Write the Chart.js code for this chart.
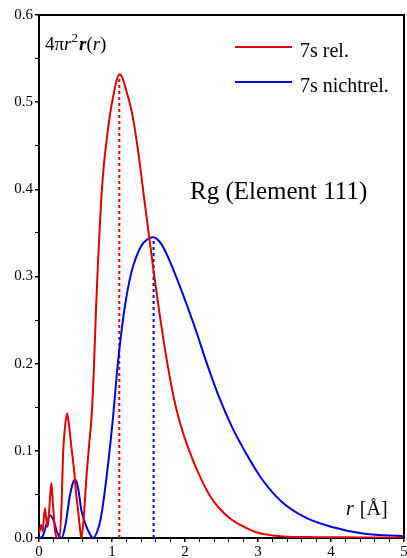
<!DOCTYPE html>
<html>
<head>
<meta charset="utf-8">
<script src="https://cdn.jsdelivr.net/npm/chart.js@4.4.1/dist/chart.umd.min.js"></script>
<style>
  html, body { margin: 0; padding: 0; background: #fff; overflow: hidden; }
  #wrap { width: 407px; height: 558px; }
  canvas { display: block; }
</style>
</head>
<body>
<div id="wrap"><canvas id="rdf" width="407" height="558"></canvas></div>
<script>
// radial distribution 4*pi*r^2*rho(r) of the 7s orbital, Rg
const relR = [0, 0.03, 0.05, 0.08, 0.1, 0.12, 0.15, 0.17, 0.19, 0.22, 0.25, 0.28, 0.31, 0.33, 0.36, 0.385, 0.41, 0.45, 0.48, 0.51, 0.535, 0.56, 0.58, 0.61, 0.65, 0.69, 0.72, 0.75, 0.78, 0.81, 0.85, 0.88, 0.92, 0.95, 0.98, 1.02, 1.06, 1.1, 1.13, 1.17, 1.2, 1.24, 1.28, 1.33, 1.38, 1.44, 1.51, 1.58, 1.65, 1.71, 1.78, 1.87, 1.96, 2.05, 2.17, 2.33, 2.46, 2.64, 2.83, 3.0, 3.2, 3.4, 3.8, 4.2, 4.6, 5.0];
const relV = [0.005, 0.015, 0.008, 0.034, 0.022, 0.013, 0.045, 0.063, 0.04, 0.008, 0.0, 0.0, 0.04, 0.097, 0.13, 0.143, 0.13, 0.1, 0.078, 0.05, 0.032, 0.012, 0.0, 0.02, 0.07, 0.11, 0.139, 0.19, 0.26, 0.32, 0.385, 0.42, 0.452, 0.472, 0.49, 0.508, 0.524, 0.532, 0.53, 0.521, 0.512, 0.5, 0.485, 0.46, 0.43, 0.39, 0.345, 0.3, 0.258, 0.225, 0.19, 0.152, 0.124, 0.102, 0.077, 0.05, 0.035, 0.021, 0.012, 0.006, 0.003, 0.0015, 0.001, 0.0008, 0.0005, 0.0003];

const nrR = [0, 0.05, 0.1, 0.15, 0.2, 0.25, 0.31, 0.35, 0.38, 0.42, 0.46, 0.5, 0.54, 0.58, 0.65, 0.7, 0.74, 0.8, 0.85, 0.92, 1.01, 1.08, 1.17, 1.26, 1.33, 1.4, 1.49, 1.56, 1.67, 1.8, 1.96, 2.15, 2.28, 2.46, 2.64, 2.83, 3.05, 3.32, 3.64, 4.0, 4.46, 5.0];
const nrV = [0.0, 0.002, 0.015, 0.026, 0.02, 0.006, 0.0, 0.01, 0.024, 0.047, 0.062, 0.067, 0.055, 0.032, 0.013, 0.004, 0.0, 0.008, 0.024, 0.066, 0.135, 0.2, 0.262, 0.303, 0.322, 0.335, 0.343, 0.345, 0.338, 0.316, 0.282, 0.238, 0.205, 0.163, 0.128, 0.098, 0.068, 0.042, 0.024, 0.013, 0.005, 0.002];

// maxima (r, value) marked with dotted lines
const relMax = [1.1, 0.532];
const nrMax = [1.57, 0.345];

const seriesNames = ['7s rel.', '7s nichtrel.'];
const RED = 'rgb(228,0,0)';
const BLUE = 'rgb(0,0,228)';
const SERIF = '"Liberation Serif", "DejaVu Serif", serif';

const toPts = (xs, ys) => xs.map((x, i) => ({ x, y: ys[i] }));

// frame, legend and text labels drawn on top
const labels = {
    id: 'labels',
    afterDraw(chart) {
        const ctx = chart.ctx;
        const area = chart.chartArea;
        ctx.save();

        // right edge of the frame
        ctx.strokeStyle = '#000';
        ctx.lineWidth = 2;
        ctx.beginPath();
        ctx.moveTo(area.right, area.top - 1);
        ctx.lineTo(area.right, area.bottom + 1);
        ctx.stroke();

        ctx.fillStyle = '#000';
        ctx.textBaseline = 'alphabetic';

        // legend
        const rows = [[RED, 47], [BLUE, 82]];
        rows.forEach(([col, y], i) => {
            ctx.strokeStyle = col;
            ctx.lineWidth = 2;
            ctx.beginPath();
            ctx.moveTo(235, y);
            ctx.lineTo(292, y);
            ctx.stroke();
            ctx.font = '20px ' + SERIF;
            ctx.fillText(seriesNames[i], 300, y + 10);
        });

        // y title: 4πr²r(r)
        let x = 45;
        const yb = 50;
        const put = (t, font, dy) => {
            ctx.font = font;
            ctx.fillText(t, x, yb + (dy || 0));
            x += ctx.measureText(t).width;
        };
        put('4π', '19px ' + SERIF);
        put('r', 'italic 19px ' + SERIF);
        put('2', '13px ' + SERIF, -8);
        x += 1;
        put('r', 'bold italic 19px ' + SERIF);
        put('(', '19px ' + SERIF);
        put('r', 'italic 19px ' + SERIF);
        put(')', '19px ' + SERIF);

        // element label
        ctx.font = '25px ' + SERIF;
        ctx.fillText('Rg (Element 111)', 190, 199);

        // x title
        x = 346;
        ctx.font = 'italic 20px ' + SERIF;
        ctx.fillText('r', x, 515);
        x += ctx.measureText('r ').width + 1;
        ctx.font = '20px ' + SERIF;
        ctx.fillText('[Å]', x, 515);
        ctx.restore();
    }
};

const tickFont = { family: SERIF, size: 15 };

new Chart(document.getElementById('rdf'), {
    type: 'line',
    data: {
        datasets: [
            {
                label: seriesNames[0],
                data: toPts(relR, relV),
                borderColor: RED,
                borderWidth: 2,
                pointRadius: 0,
                cubicInterpolationMode: 'monotone'
            },
            {
                label: seriesNames[1],
                data: toPts(nrR, nrV),
                borderColor: BLUE,
                borderWidth: 2,
                pointRadius: 0,
                cubicInterpolationMode: 'monotone'
            },
            {
                label: 'max rel',
                data: [{ x: relMax[0], y: 0 }, { x: relMax[0], y: relMax[1] }],
                borderColor: RED,
                borderWidth: 2,
                borderDash: [3, 3],
                pointRadius: 0
            },
            {
                label: 'max nichtrel',
                data: [{ x: nrMax[0], y: 0 }, { x: nrMax[0], y: nrMax[1] }],
                borderColor: BLUE,
                borderWidth: 2,
                borderDash: [3, 3],
                pointRadius: 0
            }
        ]
    },
    options: {
        responsive: false,
        animation: false,
        events: [],
        layout: { padding: { top: 15, right: 3, left: 0, bottom: 0 } },
        plugins: { legend: { display: false }, tooltip: { enabled: false } },
        scales: {
            x: {
                type: 'linear',
                min: 0,
                max: 5,
                border: { display: true, color: '#000', width: 2 },
                grid: {
                    drawOnChartArea: false,
                    drawTicks: true,
                    tickLength: 4,
                    color: '#000',
                    lineWidth: c => (Math.abs(c.tick.value - Math.round(c.tick.value)) < 1e-6 ? 1.5 : 1)
                },
                ticks: {
                    stepSize: 0.2,
                    autoSkip: false,
                    maxRotation: 0,
                    padding: 1,
                    color: '#000',
                    font: tickFont,
                    callback: v => (Math.abs(v - Math.round(v)) < 1e-6 ? String(Math.round(v)) : '')
                },
                afterFit: s => { s.height = 20; s.paddingLeft = 0; s.paddingRight = 0; }
            },
            xTop: {
                type: 'linear',
                position: 'top',
                min: 0,
                max: 5,
                border: { display: true, color: '#000', width: 2 },
                grid: { display: false },
                ticks: { display: false },
                afterFit: s => { s.height = 0; }
            },
            y: {
                type: 'linear',
                min: 0,
                max: 0.6,
                border: { display: true, color: '#000', width: 2 },
                grid: {
                    drawOnChartArea: false,
                    drawTicks: true,
                    tickLength: 4,
                    color: '#000',
                    lineWidth: c => (Math.abs(c.tick.value * 10 - Math.round(c.tick.value * 10)) < 1e-6 ? 1.5 : 1)
                },
                ticks: {
                    stepSize: 0.05,
                    autoSkip: false,
                    padding: 2,
                    color: '#000',
                    font: tickFont,
                    callback: v => (Math.abs(v * 10 - Math.round(v * 10)) < 1e-6 ? v.toFixed(1) : '')
                },
                afterFit: s => { s.width = 39; s.paddingTop = 0; s.paddingBottom = 0; }
            }
        }
    },
    plugins: [labels]
});
</script>
</body>
</html>
